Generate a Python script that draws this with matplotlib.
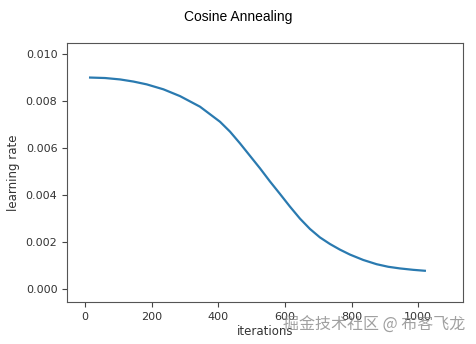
import matplotlib.pyplot as plt

# 读出的曲线数据点
iters = [15, 60, 105, 145, 185, 235, 285, 345, 405, 435, 465, 495, 525, 555,
         585, 615, 645, 675, 705, 735, 765, 795, 835, 875, 910, 945, 985, 1020]
lr = [0.00900, 0.00898, 0.00892, 0.00883, 0.00871, 0.00850, 0.00821, 0.00776,
      0.00712, 0.00670, 0.00620, 0.00567, 0.00514, 0.00458, 0.00405, 0.00351,
      0.00300, 0.00256, 0.00220, 0.00192, 0.00168, 0.00147, 0.00124, 0.00106,
      0.00095, 0.00088, 0.00082, 0.00078]

plt.rcParams['font.family'] = ['DejaVu Sans']

fig = plt.figure(figsize=(4.76, 3.44), dpi=100)
ax = fig.add_axes([0.141, 0.122, 0.832, 0.753])

ax.plot(iters, lr, color='#2a7ab0', lw=1.6)

ax.set_xlim(-54, 1135)
ax.set_ylim(-0.00055, 0.01047)
ax.set_xticks([0, 200, 400, 600, 800, 1000])
ax.set_yticks([0.000, 0.002, 0.004, 0.006, 0.008, 0.010])
ax.yaxis.set_major_formatter(plt.FormatStrFormatter('%.3f'))
ax.tick_params(labelsize=8, colors='#444444', labelcolor='#333333')
for s in ax.spines.values():
    s.set_color('#555555')

ax.set_xlabel('iterations', fontsize=8.5, color='#333333', labelpad=2)
ax.set_ylabel('learning rate', fontsize=8.5, color='#333333')

fig.suptitle('Cosine Annealing', fontsize=10, family='Liberation Sans', y=0.97)

# 水印
fig.text(0.977, 0.055, '掘金技术社区 @ 布客飞龙', ha='right', va='center',
         fontsize=11.5, color='#888888', alpha=0.8,
         family=['Noto Sans CJK SC', 'DejaVu Sans'])

fig.savefig('out.png', dpi=100)
